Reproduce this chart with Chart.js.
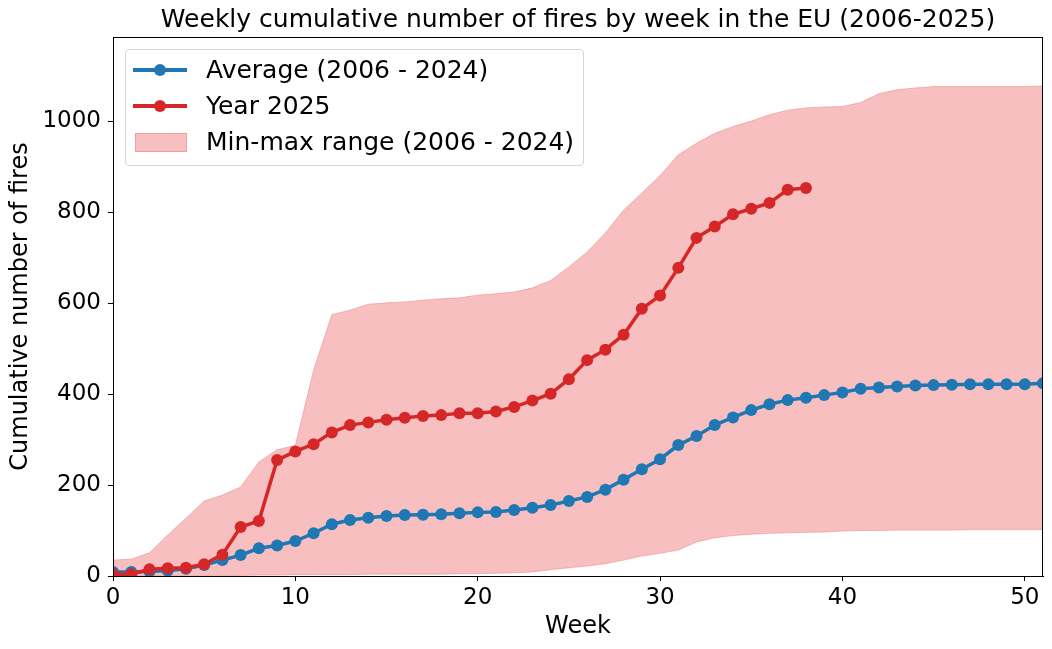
<!DOCTYPE html>
<html>
<head>
<meta charset="utf-8">
<title>Weekly cumulative number of fires</title>
<script src="https://cdn.jsdelivr.net/npm/chart.js@4.4.1/dist/chart.umd.min.js"></script>
<style>
body { margin: 0; background: #fff; }
#wrap { position: relative; width: 1052px; height: 649px; font-family: 'DejaVu Sans', sans-serif; }
#legend { position: absolute; left: 125px; top: 49px; width: 457px; height: 115px;
  border: 1px solid #d6d6d6; border-radius: 4px; background: rgba(255,255,255,0.8); }
.row { position: absolute; left: 0; width: 100%; height: 36px; }
.line { position: absolute; left: 7px; top: 16px; width: 54px; height: 4px; }
.dot { position: absolute; left: 28px; top: 12px; width: 12px; height: 12px; border-radius: 50%; }
.patch { position: absolute; left: 9px; top: 9px; width: 50px; height: 17px; }
.txt { position: absolute; left: 80px; top: 0; font-size: 25px; line-height: 36px; color: #000; white-space: nowrap; }
</style>
</head>
<body>
<div id="wrap">
  <canvas id="fireChart" width="1052" height="649"></canvas>
  <div id="legend"></div>
</div>
<script>
// semaines 0..51
const weeks = [0,1,2,3,4,5,6,7,8,9,10,11,12,13,14,15,16,17,18,19,20,21,22,23,24,25,
  26,27,28,29,30,31,32,33,34,35,36,37,38,39,40,41,42,43,44,45,46,47,48,49,50,51];

const avgFires = [9,9,10,12,16,24,35,46,61,67,77,94,114,123,128,132,134,135,136,138,140,141,145,150,156,165,
  174,190,212,235,257,288,308,332,349,365,378,387,392,398,404,412,415,417,419,420,421,422,422,422,422,424];

const fires2025 = [4,4,15,17,18,26,47,108,121,255,274,290,316,332,338,344,348,352,354,358,358,362,372,386,401,433,
  475,498,531,588,617,678,744,769,796,808,821,850,854];

const maxFires = [35,37,51,90,127,165,178,196,251,278,287,453,575,585,598,601,603,607,610,612,618,621,625,634,650,680,
  713,755,805,843,881,927,952,974,989,1001,1015,1025,1030,1032,1033,1042,1061,1070,1074,1077,1077,1077,1077,1077,1077,1078];

const minFires = [1,1,1,1,1,1,1,1,2,2,3,3,3,3,4,4,4,4,4,5,5,6,7,9,14,18,
  22,27,35,44,50,57,75,84,89,92,94,95,96,97,99,100,100,101,101,101,101,102,102,102,102,102];

const yTicks = [0,200,400,600,800,1000];

const toXY = arr => arr.map((v, i) => ({ x: weeks[i], y: v }));

Chart.defaults.font.family = "'DejaVu Sans', sans-serif";
Chart.defaults.color = '#000';

// cadre noir autour de la zone du graphe
const framePlugin = {
  id: 'frame',
  afterDatasetsDraw(chart) {
    const a = chart.chartArea, ctx = chart.ctx;
    ctx.save();
    ctx.strokeStyle = '#000';
    ctx.lineWidth = 1;
    ctx.strokeRect(a.left + 0.5, a.top + 0.5, a.right - a.left - 1, a.bottom - a.top);
    ctx.restore();
  }
};

const ctx = document.getElementById('fireChart');
const chart = new Chart(ctx, {
  type: 'line',
  data: {
    datasets: [
      {
        label: 'Average (2006 - 2024)',
        data: toXY(avgFires),
        borderColor: '#1f77b4',
        backgroundColor: '#1f77b4',
        borderWidth: 3.5,
        pointRadius: 6,
        pointBorderWidth: 0,
        fill: false,
        order: 1
      },
      {
        label: 'Year 2025',
        data: toXY(fires2025),
        borderColor: '#d62728',
        backgroundColor: '#d62728',
        borderWidth: 3.5,
        pointRadius: 6,
        pointBorderWidth: 0,
        fill: false,
        order: 0
      },
      {
        label: 'Min-max range (2006 - 2024)',
        data: toXY(maxFires),
        borderColor: 'rgba(240,128,128,0.5)',
        backgroundColor: 'rgba(240,128,128,0.5)',
        borderWidth: 1,
        pointRadius: 0,
        fill: '+1',
        order: 2
      },
      {
        label: '',
        data: toXY(minFires),
        borderColor: 'rgba(240,128,128,0.5)',
        borderWidth: 1,
        pointRadius: 0,
        fill: false,
        order: 3,
        noLegend: true
      }
    ]
  },
  options: {
    responsive: false,
    animation: false,
    layout: { padding: { left: 0, right: 9, top: 0, bottom: 0 } },
    plugins: {
      legend: { display: false },
      tooltip: { enabled: false },
      title: {
        display: true,
        fullSize: false,
        text: 'Weekly cumulative number of fires by week in the EU (2006-2025)',
        font: { size: 25, weight: 'normal' },
        color: '#000',
        padding: { top: 5, bottom: 2 }
      }
    },
    scales: {
      x: {
        type: 'linear',
        min: 0,
        max: 51,
        afterFit: s => { s.height = 73; },
        grid: { drawOnChartArea: false, tickLength: 5, tickColor: '#000' },
        border: { color: '#000', width: 1 },
        ticks: { stepSize: 10, includeBounds: false, padding: 3, font: { size: 23 }, color: '#000', maxRotation: 0 },
        title: { display: true, text: 'Week', font: { size: 24 }, color: '#000', padding: { top: 0, bottom: 8 } }
      },
      y: {
        min: 0,
        max: 1186,
        afterFit: s => { s.width = 113; },
        afterBuildTicks: s => { s.ticks = yTicks.map(v => ({ value: v })); },
        grid: { drawOnChartArea: false, tickLength: 5, tickColor: '#000' },
        border: { color: '#000', width: 1 },
        ticks: { padding: 7, font: { size: 23 }, color: '#000', callback: v => String(v) },
        title: { display: true, text: 'Cumulative number of fires', font: { size: 24 }, color: '#000', padding: { top: 6, bottom: 0 } }
      }
    }
  },
  plugins: [framePlugin]
});

// légende façon matplotlib, en HTML
const legendBox = document.getElementById('legend');
chart.data.datasets.filter(d => !d.noLegend).forEach((d, i) => {
  const row = document.createElement('div');
  row.className = 'row';
  row.style.top = (i * 36 + 2) + 'px';
  if (d.fill) {
    const p = document.createElement('div');
    p.className = 'patch';
    p.style.background = d.backgroundColor;
    p.style.border = '1px solid ' + d.borderColor;
    row.appendChild(p);
  } else {
    const l = document.createElement('div');
    l.className = 'line';
    l.style.background = d.borderColor;
    const dot = document.createElement('div');
    dot.className = 'dot';
    dot.style.background = d.borderColor;
    row.appendChild(l);
    row.appendChild(dot);
  }
  const t = document.createElement('div');
  t.className = 'txt';
  t.textContent = d.label;
  row.appendChild(t);
  legendBox.appendChild(row);
});
</script>
</body>
</html>
